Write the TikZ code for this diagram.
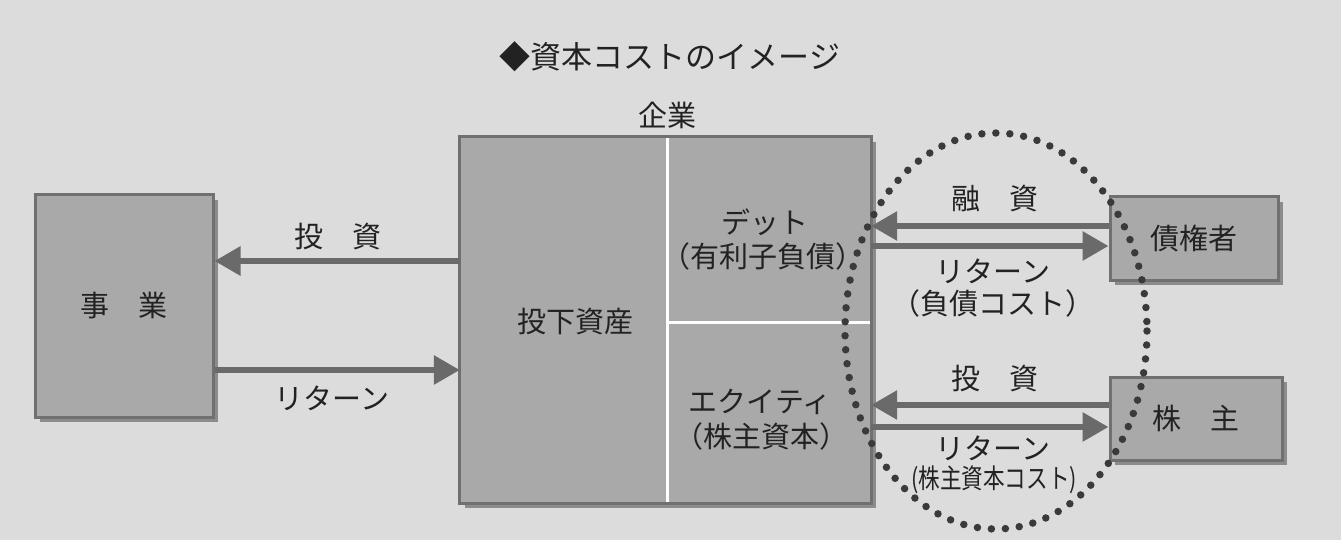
\documentclass[tikz,border=0pt]{standalone}
\usepackage{fontspec}
\setmainfont{Noto Sans CJK JP}
\usetikzlibrary{arrows.meta,shadows}
\definecolor{paper}{HTML}{DCDCDC}
\definecolor{boxfill}{HTML}{A9A9A9}
\definecolor{boxline}{HTML}{707070}
\definecolor{shadowc}{HTML}{8C8C8C}
\definecolor{arrowc}{HTML}{6A6A6A}
\definecolor{inkc}{HTML}{222222}
\definecolor{dotc}{HTML}{3A3A3A}
\begin{document}
\begin{tikzpicture}[x=1pt,y=-1pt,
  every node/.style={text=inkc},
  txt/.style={font=\fontsize{29}{33}\selectfont, inner sep=0pt, align=center},
  gbox/.style={draw=boxline, line width=3pt, fill=boxfill, inner sep=0pt,
    drop shadow={shadow xshift=5pt, shadow yshift=-5pt, fill=shadowc, opacity=1}},
  region/.style={fill=boxfill, inner sep=0pt},
  arr/.style={draw=arrowc, line width=6pt, -{Triangle[length=26pt,width=28pt]}, arrowc},
  dotted ring/.style={draw=dotc, line width=7.5pt, line cap=round, dash pattern=on 0pt off 14pt}
]
\useasboundingbox (0,0) rectangle (1341,540);
\fill[paper] (0,0) rectangle (1341,540);

% title
\node[font=\fontsize{31}{34}\selectfont, inner sep=0pt] (title) at (670,57) {◆資本コストのイメージ};
\node[txt] (kigyo) at (667,115) {企業};

% company box: shadow, regions, dividers, border
\fill[shadowc] (465,142) rectangle (876,508);
\node[region, minimum width=207pt, minimum height=366pt] (asset) at (563.5,320) {};
\node[region, minimum width=204pt, minimum height=185pt] (debt) at (769,229.5) {};
\node[region, minimum width=204pt, minimum height=181pt] (equity) at (769,412.5) {};
\draw[white, line width=3pt] (asset.north east) -- (asset.south east);
\draw[white, line width=3pt] (debt.south west) -- (debt.south east);
\draw[boxline, line width=3pt] (asset.north west) rectangle (equity.south east);
\node[txt] (assetlbl) at (575,322) {投下資産};
\node[txt] (debtlbl1) at (765,222) {デット};
\node[txt] (debtlbl2) at (763,256) {（有利子負債）};
\node[txt] (eqlbl1) at (760,402) {エクイティ};
\node[txt] (eqlbl2) at (761,436) {（株主資本）};

% other boxes
\node[gbox, minimum width=178pt, minimum height=222pt, txt] (jigyo) at (124,306) {事　業};
\node[gbox, minimum width=168pt, minimum height=83pt, txt] (creditor) at (1194,238.5) {債権者};
\node[gbox, minimum width=172pt, minimum height=83pt, txt] (holder) at (1196,418.5) {株　主};

% arrows left
\draw[arr] (asset.west |- 0,261) -- (jigyo.east |- 0,261);
\draw[arr] (jigyo.east |- 0,370) -- (asset.west |- 0,370);
\node[txt] (l1) at (338,237) {投　資};
\node[txt] (l2) at (332,398) {リターン};

% arrows right
\draw[arr] (creditor.west |- 0,226) -- (debt.east |- 0,226);
\draw[arr] (debt.east |- 0,246) -- (creditor.west |- 0,246);
\draw[arr] (holder.west |- 0,405) -- (equity.east |- 0,405);
\draw[arr] (equity.east |- 0,427) -- (holder.west |- 0,427);
\node[txt] (l3) at (995,199) {融　資};
\node[txt] (l4a) at (993,271) {リターン};
\node[txt] (l4b) at (993,303) {（負債コスト）};
\node[txt] (l5) at (995,379) {投　資};
\node[txt] (l6) at (993,448) {リターン};
\node[inner sep=0pt, font=\fontsize{27}{30}\selectfont, xscale=0.8] (l7) at (994,480) {(株主資本コスト)};

% dotted ellipse
\draw[dotted ring] (996,331) ellipse [x radius=151, y radius=198];
\end{tikzpicture}
\end{document}
